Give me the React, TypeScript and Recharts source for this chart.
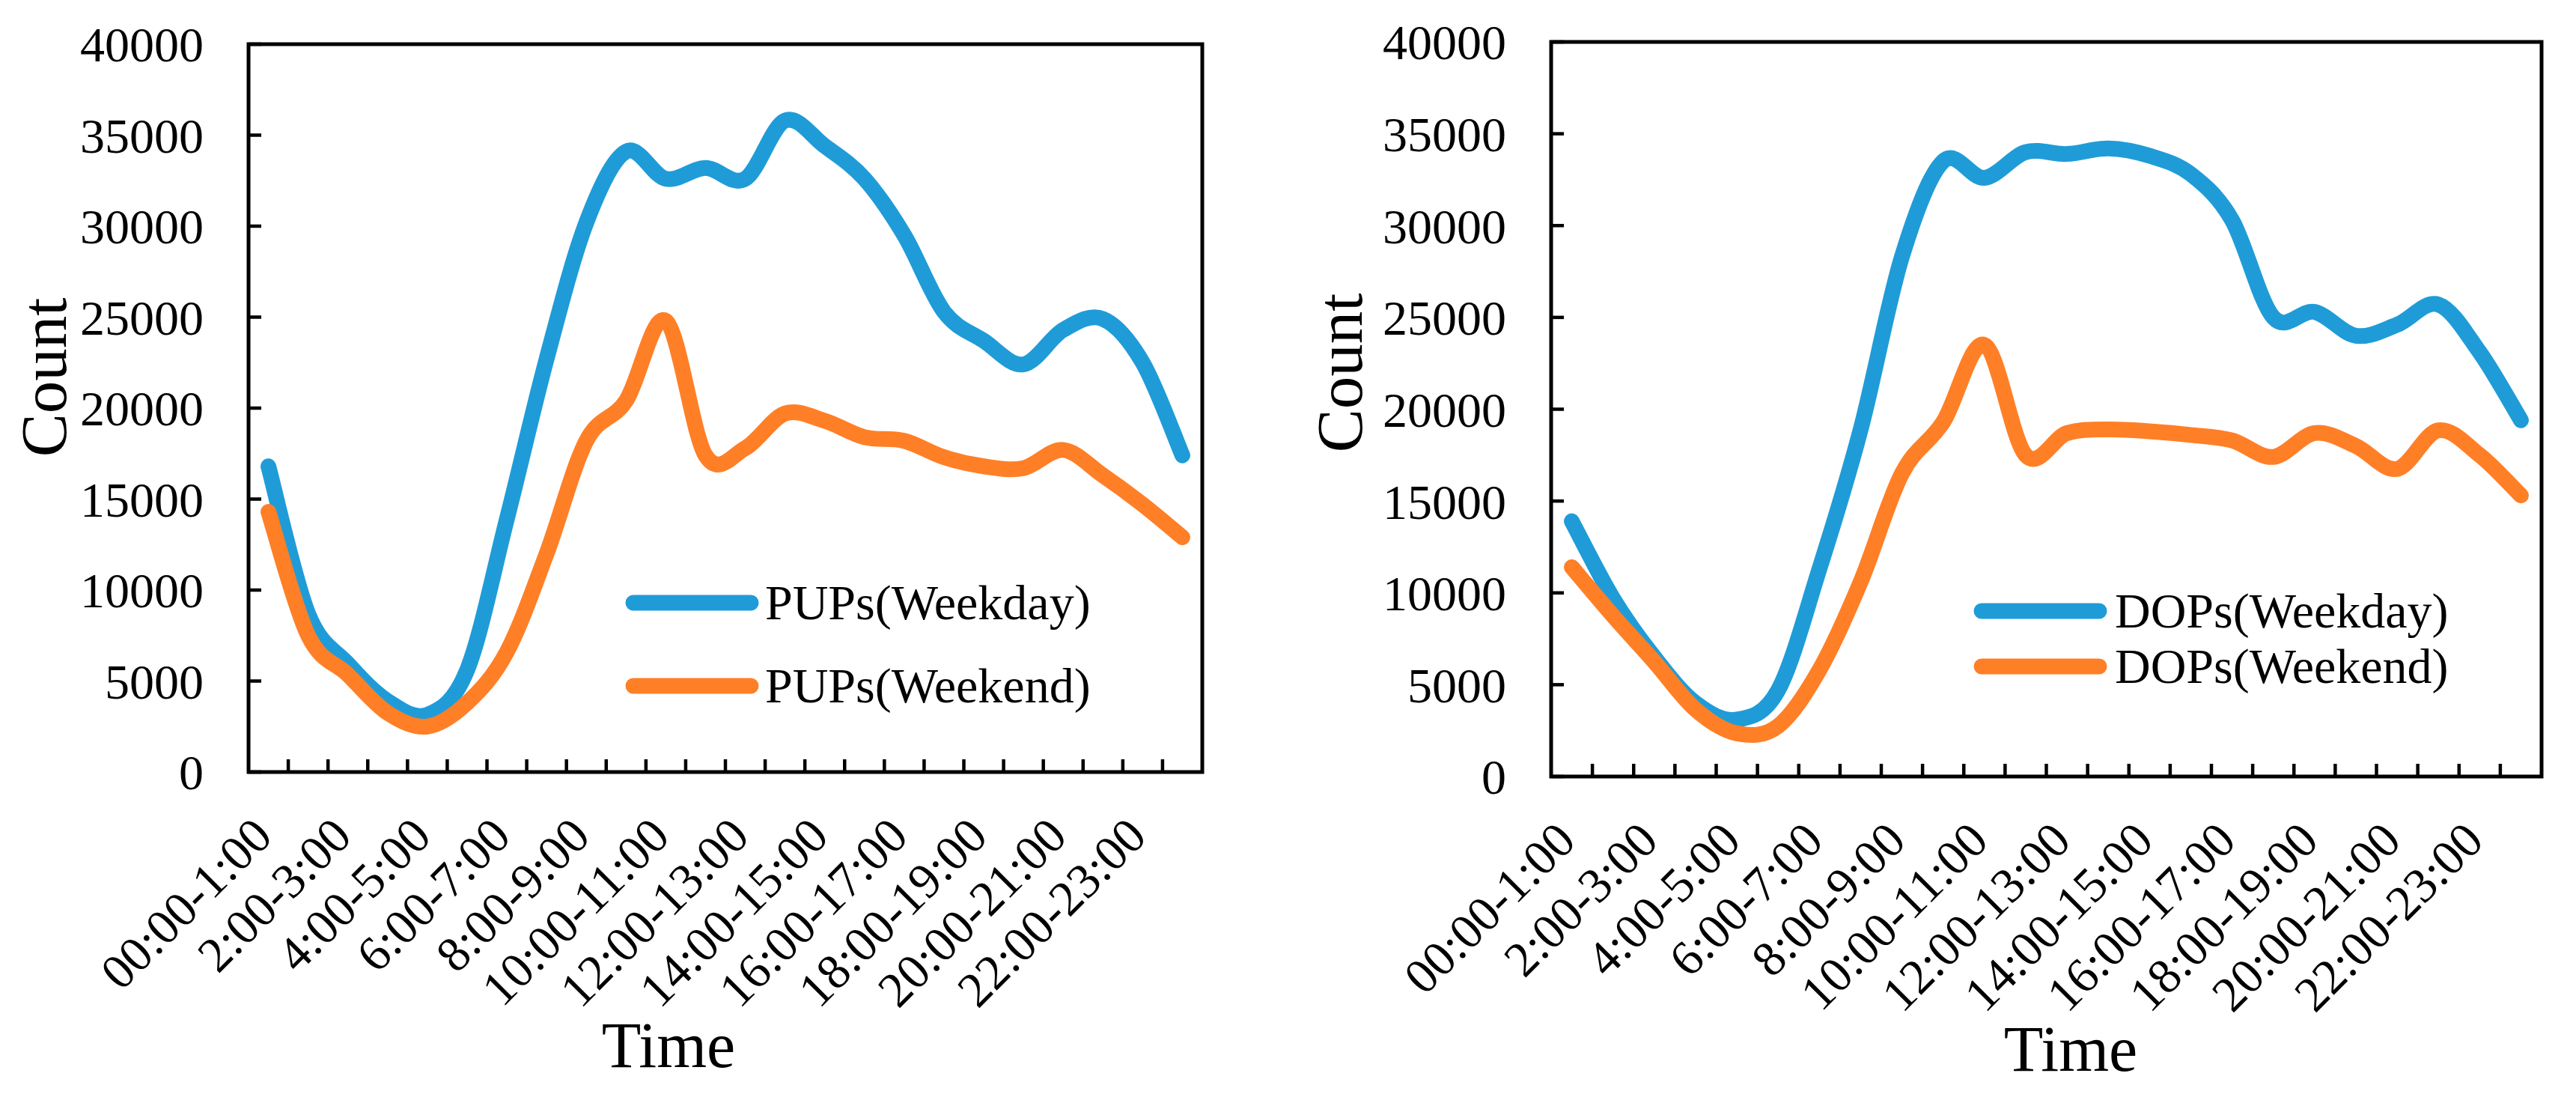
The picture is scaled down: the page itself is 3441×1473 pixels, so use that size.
import React from "react";
import { LineChart, Line, XAxis, YAxis, ReferenceArea, Legend } from "recharts";

const hours = [
  "00:00-1:00", "1:00-2:00", "2:00-3:00", "3:00-4:00", "4:00-5:00", "5:00-6:00",
  "6:00-7:00", "7:00-8:00", "8:00-9:00", "9:00-10:00", "10:00-11:00", "11:00-12:00",
  "12:00-13:00", "13:00-14:00", "14:00-15:00", "15:00-16:00", "16:00-17:00", "17:00-18:00",
  "18:00-19:00", "19:00-20:00", "20:00-21:00", "21:00-22:00", "22:00-23:00", "23:00-24:00",
];

const pupWeekday = [16800, 8700, 5950, 3900, 3150, 5600, 13900, 22700, 30200, 34100, 32600, 33200, 32600, 35800, 34400, 32600, 29500, 25300, 23700, 22400, 24300, 24900, 22500, 17400];
const pupWeekend = [14300, 7500, 5350, 3250, 2500, 3800, 6600, 12000, 18200, 20400, 24800, 17400, 17800, 19700, 19300, 18400, 18200, 17300, 16800, 16700, 17700, 16300, 14700, 12900];
const dopWeekday = [13900, 9700, 6500, 4000, 3100, 4700, 11300, 18900, 28300, 33500, 32600, 34000, 33900, 34200, 33800, 32800, 30300, 25000, 25300, 24000, 24600, 25700, 23100, 19400];
const dopWeekend = [11400, 8750, 6250, 3650, 2350, 2750, 5800, 10600, 16500, 19300, 23500, 17500, 18700, 18900, 18800, 18600, 18300, 17400, 18700, 18000, 16750, 18850, 17500, 15300];

const yTicks = [0, 5000, 10000, 15000, 20000, 25000, 30000, 35000, 40000];

const BLUE = "#1F9CD8";
const ORANGE = "#FF7F27";
const FONT = "'Liberation Serif', 'Times New Roman', serif";
const LINE_W = 21;

// tick marks sit between categories, labels on every other category
const boundaryTicks = hours.slice(1).map((_, i) => i + 0.5);
const labelTicks = hours.map((_, i) => i).filter((i) => i % 2 === 0);

// Excel-like smoothing (Catmull-Rom through every point)
function catmullRom(context: any) {
  let pts: number[][] = [];
  return {
    areaStart() {},
    areaEnd() {},
    lineStart() {
      pts = [];
    },
    lineEnd() {
      const n = pts.length;
      if (!n) return;
      context.moveTo(pts[0][0], pts[0][1]);
      for (let i = 0; i < n - 1; i++) {
        const p0 = pts[Math.max(i - 1, 0)];
        const p1 = pts[i];
        const p2 = pts[i + 1];
        const p3 = pts[Math.min(i + 2, n - 1)];
        context.bezierCurveTo(
          p1[0] + (p2[0] - p0[0]) / 6,
          p1[1] + (p2[1] - p0[1]) / 6,
          p2[0] - (p3[0] - p1[0]) / 6,
          p2[1] - (p3[1] - p1[1]) / 6,
          p2[0],
          p2[1]
        );
      }
    },
    point(x: number, y: number) {
      pts.push([+x, +y]);
    },
  };
}

// inward tick mark between two categories (this axis sits 1px below the plot)
function MarkTick(props: any) {
  const { x, y } = props;
  return <line x1={x} x2={x} y1={y - 1} y2={y - 18} stroke="#000" strokeWidth={4.5} />;
}

function HourTick(props: any) {
  const { x, y, payload } = props;
  const ax = x + 8;
  const ay = y + 89;
  return (
    <text
      x={ax}
      y={ay}
      transform={`rotate(-45 ${ax} ${ay})`}
      textAnchor="end"
      fontSize={66}
      fontFamily={FONT}
      fill="#000"
    >
      {hours[payload.value]}
    </text>
  );
}

interface PanelProps {
  width: number;
  plotBottom: number;
  margin: { top: number; right: number };
  yAxisWidth: number;
  keys: [string, string];
  names: [string, string];
  weekday: number[];
  weekend: number[];
  legend: { left: number; top: number; gap: number; textX: number };
  countPos: { x: number; y: number };
  timePos: { x: number; y: number };
}

function Panel(p: PanelProps) {
  const data = hours.map((h, i) => ({
    idx: i,
    hour: h,
    [p.keys[0]]: p.weekday[i],
    [p.keys[1]]: p.weekend[i],
  }));
  const series = [
    { name: p.names[0], color: BLUE },
    { name: p.names[1], color: ORANGE },
  ];
  const bottomSpace = 1473 - p.plotBottom;

  return (
    <LineChart
      width={p.width}
      height={1473}
      data={data}
      margin={{ top: p.margin.top, right: p.margin.right, bottom: 0, left: 0 }}
    >
      <XAxis
        xAxisId="labels"
        dataKey="idx"
        type="number"
        domain={[-0.5, 23.5]}
        ticks={labelTicks}
        interval={0}
        height={1}
        axisLine={false}
        tickLine={false}
        tickSize={0}
        tickMargin={0}
        tick={<HourTick />}
        label={{
          content: () => (
            <text
              x={p.timePos.x}
              y={p.timePos.y}
              textAnchor="middle"
              fontSize={86}
              fontFamily={FONT}
              fill="#000"
            >
              Time
            </text>
          ),
        }}
      />
      <XAxis
        xAxisId="marks"
        dataKey="idx"
        type="number"
        domain={[-0.5, 23.5]}
        ticks={boundaryTicks}
        interval={0}
        height={bottomSpace - 1}
        axisLine={false}
        tickLine={false}
        tickSize={0}
        tickMargin={0}
        tick={<MarkTick />}
      />
      <YAxis
        width={p.yAxisWidth}
        domain={[0, 40000]}
        ticks={yTicks}
        interval={0}
        axisLine={false}
        tickSize={-17}
        tickMargin={77}
        tickLine={{ stroke: "#000", strokeWidth: 4.5 }}
        tick={{ fontSize: 66, fontFamily: FONT, fill: "#000" }}
        label={{
          content: () => (
            <text
              x={p.countPos.x}
              y={p.countPos.y}
              transform={`rotate(-90 ${p.countPos.x} ${p.countPos.y})`}
              textAnchor="middle"
              fontSize={87}
              fontFamily={FONT}
              fill="#000"
            >
              Count
            </text>
          ),
        }}
      />
      <ReferenceArea
        xAxisId="labels"
        x1={-0.5}
        x2={23.5}
        y1={0}
        y2={40000}
        fill="none"
        fillOpacity={0}
        stroke="#000"
        strokeWidth={5}
        ifOverflow="visible"
      />
      <Legend
        layout="horizontal"
        verticalAlign="middle"
        align="center"
        wrapperStyle={{ left: p.legend.left, top: p.legend.top, width: 720, height: 220 }}
        content={() => (
          <svg width={720} height={220}>
            {series.map((s, i) => {
              const y = 50 + i * p.legend.gap;
              return (
                <g key={s.name}>
                  <line
                    x1={20}
                    x2={177}
                    y1={y}
                    y2={y}
                    stroke={s.color}
                    strokeWidth={LINE_W}
                    strokeLinecap="round"
                  />
                  <text x={p.legend.textX} y={y + 22} fontSize={66} fontFamily={FONT} fill="#000">
                    {s.name}
                  </text>
                </g>
              );
            })}
          </svg>
        )}
      />
      <Line
        xAxisId="labels"
        dataKey={p.keys[0]}
        name={p.names[0]}
        type={catmullRom as any}
        stroke={BLUE}
        strokeWidth={LINE_W}
        strokeLinecap="round"
        strokeLinejoin="round"
        dot={false}
        activeDot={false}
        isAnimationActive={false}
      />
      <Line
        xAxisId="labels"
        dataKey={p.keys[1]}
        name={p.names[1]}
        type={catmullRom as any}
        stroke={ORANGE}
        strokeWidth={LINE_W}
        strokeLinecap="round"
        strokeLinejoin="round"
        dot={false}
        activeDot={false}
        isAnimationActive={false}
      />
    </LineChart>
  );
}

export default function App() {
  return (
    <div style={{ position: "absolute", left: 0, top: 0, width: 3441, height: 1473, background: "#fff" }}>
      <div style={{ position: "absolute", left: 0, top: 0 }}>
        <Panel
          width={1720}
          plotBottom={1031}
          margin={{ top: 59, right: 114 }}
          yAxisWidth={332}
          keys={["pupWeekday", "pupWeekend"]}
          names={["PUPs(Weekday)", "PUPs(Weekend)"]}
          weekday={pupWeekday}
          weekend={pupWeekend}
          legend={{ left: 826, top: 755, gap: 111, textX: 196 }}
          countPos={{ x: 88, y: 504 }}
          timePos={{ x: 893, y: 1425 }}
        />
      </div>
      <div style={{ position: "absolute", left: 1720, top: 0 }}>
        <Panel
          width={1721}
          plotBottom={1037}
          margin={{ top: 56, right: 46 }}
          yAxisWidth={352}
          keys={["dopWeekday", "dopWeekend"]}
          names={["DOPs(Weekday)", "DOPs(Weekend)"]}
          weekday={dopWeekday}
          weekend={dopWeekend}
          legend={{ left: 907, top: 766, gap: 74, textX: 198 }}
          countPos={{ x: 99, y: 498 }}
          timePos={{ x: 1046, y: 1430 }}
        />
      </div>
    </div>
  );
}
